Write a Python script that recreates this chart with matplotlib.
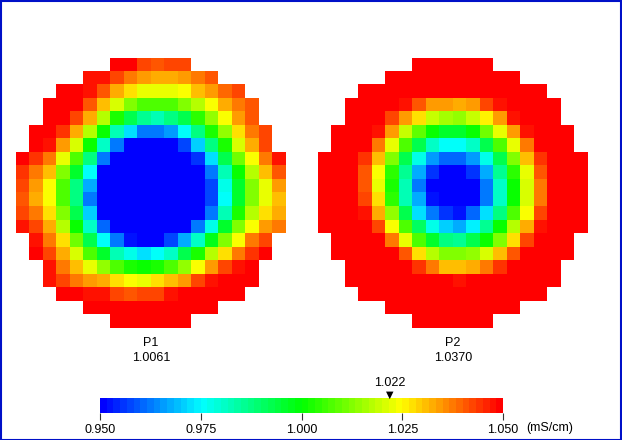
import numpy as np
import matplotlib
matplotlib.use('Agg')
import matplotlib.pyplot as plt
from matplotlib.colors import LinearSegmentedColormap, Normalize
from matplotlib.cm import ScalarMappable
from matplotlib.patches import Rectangle

nan = np.nan

# conductivity maps (mS/cm), 20 x 20 cells, nan = outside the wafer
p1 = [
    [nan]*7 + [1.050, 1.050, 1.043, 1.040, 1.042, 1.043] + [nan]*7,
    [nan]*5 + [1.048, 1.047, 1.043, 1.038, 1.035, 1.033, 1.033, 1.035, 1.037, 1.040] + [nan]*5,
    [nan]*3 + [1.050, 1.050, 1.047, 1.040, 1.033, 1.028, 1.023, 1.022, 1.022, 1.025, 1.030, 1.034, 1.039, 1.043] + [nan]*3,
    [nan]*2 + [1.050, 1.050, 1.050, 1.040, 1.030, 1.020, 1.013, 1.008, 1.007, 1.007, 1.012, 1.018, 1.025, 1.033, 1.038, 1.040] + [nan]*2,
    [nan]*2 + [1.050, 1.050, 1.043, 1.032, 1.017, 1.003, 0.993, 0.985, 0.983, 0.987, 0.993, 1.005, 1.015, 1.025, 1.034, 1.040] + [nan]*2,
    [nan] + [1.050, 1.050, 1.045, 1.033, 1.017, 1.000, 0.983, 0.972, 0.963, 0.962, 0.966, 0.975, 0.987, 1.002, 1.015, 1.028, 1.038, 1.043] + [nan],
    [nan] + [1.050, 1.047, 1.034, 1.020, 1.000, 0.980, 0.963, 0.950, 0.950, 0.950, 0.950, 0.957, 0.970, 0.987, 1.003, 1.020, 1.033, 1.042] + [nan],
    [1.050, 1.045, 1.037, 1.023, 1.007, 0.987, 0.963] + [0.950]*6 + [0.955, 0.973, 0.993, 1.010, 1.025, 1.037, 1.048],
    [1.045, 1.038, 1.030, 1.013, 0.995, 0.975] + [0.950]*8 + [0.963, 0.982, 1.000, 1.017, 1.030, 1.040],
    [1.042, 1.034, 1.025, 1.008, 0.987, 0.967] + [0.950]*8 + [0.957, 0.977, 0.995, 1.012, 1.023, 1.034],
    [1.041, 1.033, 1.025, 1.008, 0.988, 0.963] + [0.950]*8 + [0.957, 0.975, 0.995, 1.012, 1.023, 1.031],
    [1.043, 1.038, 1.028, 1.012, 0.992, 0.970] + [0.950]*8 + [0.963, 0.983, 1.002, 1.017, 1.028, 1.033],
    [1.048, 1.043, 1.033, 1.018, 1.000, 0.980, 0.960] + [0.950]*6 + [0.962, 0.978, 0.995, 1.012, 1.025, 1.034, 1.037],
    [nan] + [1.047, 1.038, 1.027, 1.010, 0.992, 0.975, 0.963, 0.953, 0.950, 0.950, 0.957, 0.967, 0.980, 0.997, 1.012, 1.025, 1.037, 1.043] + [nan],
    [nan] + [1.050, 1.042, 1.033, 1.020, 1.007, 0.995, 0.983, 0.977, 0.973, 0.975, 0.980, 0.992, 1.003, 1.017, 1.028, 1.037, 1.045, 1.050] + [nan],
    [nan]*2 + [1.047, 1.038, 1.031, 1.022, 1.015, 1.007, 1.002, 1.000, 1.002, 1.007, 1.015, 1.025, 1.034, 1.042, 1.048, 1.050] + [nan]*2,
    [nan]*2 + [1.048, 1.043, 1.038, 1.035, 1.032, 1.027, 1.025, 1.023, 1.027, 1.031, 1.035, 1.042, 1.048, 1.050, 1.050, 1.050] + [nan]*2,
    [nan]*3 + [1.050, 1.050, 1.047, 1.047, 1.042, 1.040, 1.042, 1.043, 1.048] + [1.050]*5 + [nan]*3,
    [nan]*5 + [1.050]*10 + [nan]*5,
    [nan]*7 + [1.050]*6 + [nan]*7,
]

p2 = [
    [nan]*7 + [1.050]*6 + [nan]*7,
    [nan]*5 + [1.050]*10 + [nan]*5,
    [nan]*3 + [1.050]*14 + [nan]*3,
    [nan]*2 + [1.050]*4 + [1.047, 1.040, 1.035, 1.034, 1.033, 1.035, 1.042, 1.048] + [1.050]*4 + [nan]*2,
    [nan]*2 + [1.050]*3 + [1.043, 1.034, 1.027, 1.019, 1.016, 1.015, 1.019, 1.026, 1.035, 1.047] + [1.050]*3 + [nan]*2,
    [nan] + [1.050]*3 + [1.047, 1.034, 1.019, 1.009, 1.000, 0.996, 0.995, 1.000, 1.010, 1.022, 1.034, 1.048] + [1.050]*3 + [nan],
    [nan] + [1.050]*3 + [1.038, 1.023, 1.007, 0.993, 0.981, 0.975, 0.975, 0.980, 0.993, 1.008, 1.023, 1.038] + [1.050]*3 + [nan],
    [1.050]*3 + [1.045, 1.030, 1.013, 0.993, 0.978, 0.966, 0.960, 0.960, 0.966, 0.978, 0.993, 1.012, 1.030, 1.045] + [1.050]*3,
    [1.050]*3 + [1.040, 1.025, 1.005, 0.985, 0.967, 0.955, 0.950, 0.950, 0.955, 0.967, 0.985, 1.004, 1.023, 1.040] + [1.050]*3,
    [1.050]*3 + [1.040, 1.023, 1.002, 0.983, 0.963, 0.950, 0.950, 0.950, 0.950, 0.963, 0.980, 1.000, 1.020, 1.037] + [1.050]*3,
    [1.050]*3 + [1.043, 1.027, 1.005, 0.983, 0.967, 0.953, 0.950, 0.950, 0.950, 0.963, 0.980, 1.000, 1.020, 1.038] + [1.050]*3,
    [1.050]*3 + [1.048, 1.033, 1.015, 0.993, 0.973, 0.962, 0.955, 0.953, 0.960, 0.972, 0.987, 1.007, 1.025, 1.042] + [1.050]*3,
    [1.050]*4 + [1.042, 1.025, 1.007, 0.990, 0.977, 0.970, 0.968, 0.974, 0.985, 1.000, 1.018, 1.033, 1.048] + [1.050]*3,
    [nan] + [1.050]*4 + [1.038, 1.023, 1.008, 0.995, 0.987, 0.985, 0.992, 1.000, 1.013, 1.028, 1.042] + [1.050]*3 + [nan],
    [nan] + [1.050]*5 + [1.040, 1.028, 1.017, 1.012, 1.012, 1.014, 1.020, 1.030, 1.041] + [1.050]*4 + [nan],
    [nan]*2 + [1.050]*5 + [1.045, 1.037, 1.031, 1.031, 1.033, 1.038, 1.045] + [1.050]*4 + [nan]*2,
    [nan]*2 + [1.050]*8 + [1.048] + [1.050]*7 + [nan]*2,
    [nan]*3 + [1.050]*14 + [nan]*3,
    [nan]*5 + [1.050]*10 + [nan]*5,
    [nan]*7 + [1.050]*6 + [nan]*7,
]

names = ['P1', 'P2']
means = ['1.0061', '1.0370']
ticks = [0.950, 0.975, 1.000, 1.025, 1.050]
marker_value = 1.022
unit = '(mS/cm)'
vmin, vmax = 0.95, 1.05

plt.rcParams['font.family'] = ['Liberation Sans', 'DejaVu Sans']

W, H = 622, 440
fig = plt.figure(figsize=(W / 100, H / 100), dpi=100)
fig.patch.set_facecolor('white')

cmap = LinearSegmentedColormap.from_list(
    'cond', ['#0000ff', '#00ffff', '#00ff00', '#ffff00', '#ff0000'], N=60)

lefts = [16, 318]
for grid, name, mean, left in zip([p1, p2], names, means, lefts):
    ax = fig.add_axes([left / W, 1 - 328 / H, 270 / W, 270 / H])
    ax.imshow(np.array(grid), cmap=cmap, vmin=vmin, vmax=vmax,
              interpolation='nearest', aspect='auto')
    ax.axis('off')
    cx = (left + 135) / W
    fig.text(cx, 1 - 343 / H, name, ha='center', va='center', fontsize=9)
    fig.text(cx, 1 - 358 / H, mean, ha='center', va='center', fontsize=9)

# colour scale
cax = fig.add_axes([100 / W, 1 - 413 / H, 403 / W, 15 / H])
cb = fig.colorbar(ScalarMappable(Normalize(vmin, vmax), cmap), cax=cax,
                  orientation='horizontal', ticks=ticks)
cb.outline.set_visible(False)
cax.set_xticklabels([f'{t:.3f}' for t in ticks])
cax.tick_params(axis='x', length=5, width=0.8, pad=3, labelsize=9,
                color='#333333')
cax.set_xlim(vmin, vmax)
tr = cax.get_xaxis_transform()
cax.text(marker_value, 1.22, '\u25bc', transform=tr, ha='center', va='center',
         fontsize=7, family='DejaVu Sans', color='black')
cax.text(marker_value, 2.0, f'{marker_value:.3f}', transform=tr,
         ha='center', va='center', fontsize=9)
fig.text(550 / W, 1 - 428 / H, unit, ha='center', va='center', fontsize=9)

# window frame
fig.add_artist(Rectangle((0.5 / W, 0.5 / H), 1 - 2 / W, 1 - 2 / H,
                         transform=fig.transFigure, fill=False,
                         edgecolor='#0010c8', linewidth=1.5))

fig.savefig('out.png', dpi=100)
